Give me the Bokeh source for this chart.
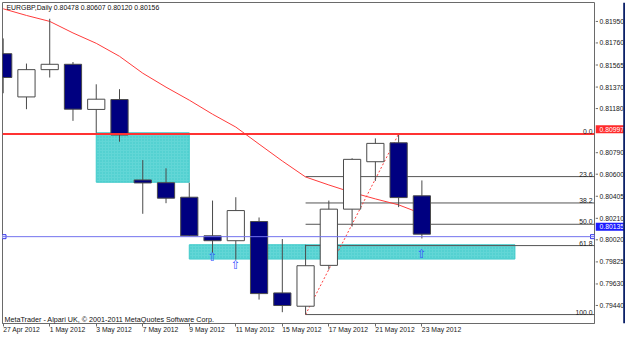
from bokeh.plotting import figure
from bokeh.layouts import row
from bokeh.models import (Range1d, FixedTicker, Span, LabelSet,
                          ColumnDataSource)
from bokeh.core.properties import value
from bokeh.embed import file_html
from bokeh.resources import INLINE

# ---------------- data ----------------
dates = ["27 Apr 2012", "30 Apr 2012", "1 May 2012", "2 May 2012", "3 May 2012",
         "4 May 2012", "7 May 2012", "8 May 2012", "9 May 2012", "10 May 2012",
         "11 May 2012", "14 May 2012", "15 May 2012", "16 May 2012", "17 May 2012",
         "18 May 2012", "21 May 2012", "22 May 2012", "23 May 2012"]
opens  = [0.81671, 0.81308, 0.81537, 0.81582, 0.81203, 0.81286, 0.80611, 0.80588,
          0.80466, 0.80142, 0.80101, 0.80262, 0.79663, 0.79551, 0.79894, 0.80366,
          0.80764, 0.80923, 0.80478]
highs  = [0.81799, 0.81588, 0.81964, 0.81601, 0.81414, 0.81373, 0.80778, 0.80709,
          0.80588, 0.80438, 0.80466, 0.80296, 0.80115, 0.80067, 0.80438, 0.80793,
          0.80960, 0.80997, 0.80607]
lows   = [0.81339, 0.81205, 0.81471, 0.81107, 0.81007, 0.80932, 0.80327, 0.80416,
          0.80140, 0.80000, 0.79942, 0.79607, 0.79501, 0.79481, 0.79858, 0.80220,
          0.80603, 0.80383, 0.80120]
closes = [0.81471, 0.81537, 0.81582, 0.81205, 0.81289, 0.80988, 0.80586, 0.80458,
          0.80142, 0.80101, 0.80354, 0.79657, 0.79557, 0.79891, 0.80366, 0.80784,
          0.80918, 0.80463, 0.80156]
ma_values = [0.82048, 0.81992, 0.81942, 0.81845, 0.81758, 0.81649, 0.81507, 0.81390,
             0.81281, 0.81163, 0.81055, 0.80912, 0.80770, 0.80636, 0.80569, 0.80506,
             0.80452, 0.80402, 0.80327]

price_ticks = [0.81950, 0.81760, 0.81565, 0.81370, 0.81180, 0.80790, 0.80600,
               0.80405, 0.80210, 0.80020, 0.79825, 0.79630, 0.79440]
date_tick_bars = [0, 2, 4, 6, 8, 10, 12, 14, 16, 18]

red_level = 0.80997
blue_level = 0.80135

fib_levels = [0.0, 23.6, 38.2, 50.0, 61.8, 100.0]
fib_high = 0.80997
fib_low = 0.79481
fib_low_bar = 13    # 16 May 2012
fib_high_bar = 17   # 22 May 2012

zone_left_bar  = [4, 8]
zone_right_bar = [8, 22]
zone_top       = [0.81007, 0.80067]
zone_bottom    = [0.80592, 0.79947]

arrow_bars   = [9, 10, 18]
arrow_prices = [0.79963, 0.79900, 0.79992]

header = "EURGBP,Daily  0.80478 0.80607 0.80120 0.80156"
footer = "MetaTrader - Alpari UK, \u00a9 2001-2011 MetaQuotes Software Corp."

# ---------------- layout ----------------
W, H = 625, 339
FL, FR, FT, FB = 2, 594, 2, 324
PW = FR + 1                        # width of the chart figure
SW = W - PW                        # width of the price-scale strip
PX = 11950.0                       # pixels per price unit
Y_TOP = 0.81950 + 18 / PX
Y_BOT = Y_TOP - (FB - FT) / PX
BAR_PX = 23.26
X_START = -0.7 / BAR_PX
X_END = X_START + (FR - FL) / BAR_PX

FONT = "Liberation Sans"
FS = "6.8px"
TXT = "#202020"
FRAME = "#6a6a6a"

p = figure(width=PW, height=H, output_backend="svg", toolbar_location=None,
           x_range=Range1d(X_START, X_END), y_range=Range1d(Y_BOT, Y_TOP),
           y_axis_location=None,
           min_border_left=FL, min_border_top=FT,
           min_border_right=PW - FR, min_border_bottom=H - FB)
p.xgrid.visible = False
p.ygrid.visible = False
p.background_fill_color = "white"
p.border_fill_color = "white"
p.outline_line_color = FRAME
p.outline_line_width = 1

xa = p.xaxis[0]
xa.ticker = FixedTicker(ticks=date_tick_bars)
xa.major_label_overrides = {b: dates[b] for b in date_tick_bars}
xa.major_tick_out = 3
xa.major_tick_in = 0
xa.minor_tick_line_color = None
xa.major_label_standoff = 3
xa.major_label_orientation = -0.0001
xa.major_label_text_font = FONT
xa.major_label_text_font_size = FS
xa.major_label_text_color = TXT
xa.axis_line_color = FRAME
xa.major_tick_line_color = FRAME

# zones
p.quad(left=zone_left_bar, right=zone_right_bar, top=zone_top, bottom=zone_bottom,
       fill_color="#62d6d6", line_color="#3fcaca", line_width=1,
       hatch_pattern="dot", hatch_color="#2fc2c2", hatch_scale=3, hatch_alpha=0.7)

# horizontal lines
p.add_layout(Span(location=red_level, dimension="width", line_color="#ff3333", line_width=2))
p.add_layout(Span(location=blue_level, dimension="width", line_color="#7272ee", line_width=1))
p.scatter(x=[X_START + 1.5 / BAR_PX, X_END - 2 / BAR_PX], y=[blue_level, blue_level],
          marker="square", size=4, fill_color="white", line_color="#3333ee", line_width=1)

# fibonacci
fib_prices = [fib_high - lv / 100.0 * (fib_high - fib_low) for lv in fib_levels]
p.ray(x=[fib_low_bar] * len(fib_prices), y=fib_prices, length=0, angle=0,
      line_color="#555555", line_width=1)
p.segment(x0=[fib_low_bar], y0=[fib_low], x1=[fib_high_bar], y1=[fib_high],
          line_color="#ff4040", line_width=1, line_dash="2 2")
fib_src = ColumnDataSource(dict(
    x=[FR - FL - 2] * len(fib_levels), y=fib_prices,
    t=["%.1f" % lv for lv in fib_levels]))
p.add_layout(LabelSet(x="x", y="y", text="t", source=fib_src, x_units="screen",
                      text_align="right", text_baseline="bottom",
                      text_font=value(FONT), text_font_size=value(FS), text_color=TXT))

# moving average
bars = list(range(len(dates)))
p.line(bars, ma_values, line_color="#ff3b3b", line_width=1)

# candles
wick = "#4a4a4a"
p.segment(x0=bars, y0=lows, x1=bars, y1=highs, line_color=wick, line_width=1)
up = [i for i in bars if closes[i] >= opens[i]]
dn = [i for i in bars if closes[i] < opens[i]]
p.vbar(x=up, top=[closes[i] for i in up], bottom=[opens[i] for i in up], width=0.74,
       fill_color="white", line_color=wick, line_width=1)
p.vbar(x=dn, top=[opens[i] for i in dn], bottom=[closes[i] for i in dn], width=0.74,
       fill_color="#000080", line_color=wick, line_width=1)

# arrows
p.text(x=arrow_bars, y=arrow_prices, text=["\u21e7"] * len(arrow_bars),
       text_font=value("DejaVu Sans"), text_font_size=value("12px"), text_color="#3355ff",
       text_align="center", text_baseline="middle")

# header / footer
hf_src = ColumnDataSource(dict(x=[4, 2], y=[FB - FT - 6, 4], t=[header, footer],
                               fs=["6.9px", "7.2px"]))
p.add_layout(LabelSet(x="x", y="y", text="t", source=hf_src, x_units="screen",
                      y_units="screen", text_font=value(FONT), text_font_size="fs",
                      text_color="#101010", text_baseline="middle"))

# ---------------- price scale strip ----------------
q = figure(width=SW, height=H, output_backend="svg", toolbar_location=None,
           x_range=Range1d(0, SW), y_range=Range1d(Y_BOT - (H - FB) / PX, Y_TOP + FT / PX),
           x_axis_location=None, y_axis_location=None,
           min_border_left=0, min_border_right=0, min_border_top=0, min_border_bottom=0)
q.xgrid.visible = False
q.ygrid.visible = False
q.outline_line_color = None
q.background_fill_color = "white"
q.border_fill_color = "white"

q.segment(x0=[0] * len(price_ticks), x1=[2.5] * len(price_ticks),
          y0=price_ticks, y1=price_ticks, line_color=FRAME, line_width=1)
q.text(x=[4] * len(price_ticks), y=price_ticks, text=["%.5f" % t for t in price_ticks],
       text_font=value(FONT), text_font_size=value(FS), text_color=TXT,
       text_align="left", text_baseline="middle")

box_levels = [red_level, blue_level]
box_colors = ["#ff2a2a", "#1a1aff"]
q.rect(x=[SW / 2] * 2, y=box_levels, width=[SW] * 2, height=[8] * 2,
       height_units="screen", fill_color=box_colors, line_color=None)
q.text(x=[4] * 2, y=box_levels, text=["%.5f" % b for b in box_levels],
       text_font=value(FONT), text_font_size=value(FS), text_color="white",
       text_align="left", text_baseline="middle")

# window frame strip on the right
q.quad(left=[SW - 2.3], right=[SW], top=[Y_TOP + FT / PX], bottom=[Y_BOT - (H - FB) / PX],
       fill_color="#0c2168", line_color=None)

layout = row(p, q, spacing=0)
open("out.html", "w").write(file_html(layout, INLINE))
